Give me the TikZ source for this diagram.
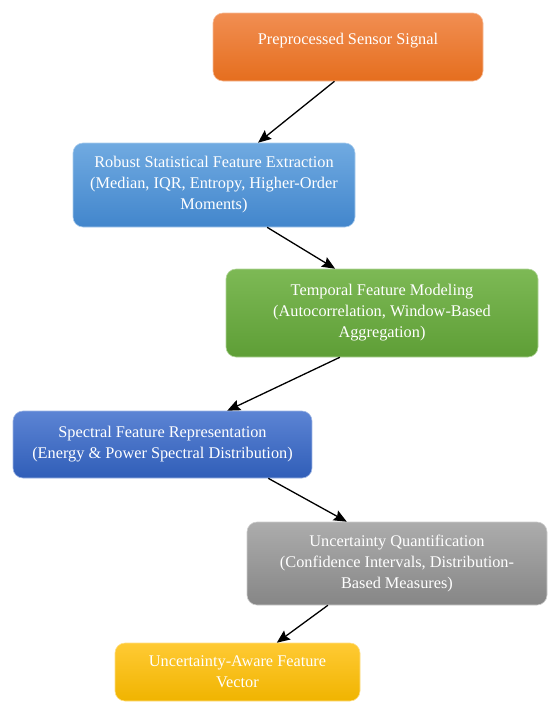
\documentclass[tikz,border=0pt]{standalone}
\usepackage{fontspec}
\setmainfont{Liberation Serif}
\usetikzlibrary{arrows.meta,calc}
\definecolor{orT}{RGB}{241,142,82}
\definecolor{orB}{RGB}{229,110,30}
\definecolor{b1T}{RGB}{112,170,225}
\definecolor{b1B}{RGB}{66,134,204}
\definecolor{b2T}{RGB}{92,132,212}
\definecolor{b2B}{RGB}{48,94,184}
\definecolor{grT}{RGB}{125,185,85}
\definecolor{grB}{RGB}{94,158,54}
\definecolor{gyT}{RGB}{172,172,172}
\definecolor{gyB}{RGB}{134,134,134}
\definecolor{ylT}{RGB}{255,202,52}
\definecolor{ylB}{RGB}{240,180,0}
\begin{document}
\begin{tikzpicture}[x=1pt,y=-1pt,
  box/.style={rectangle, rounded corners=10pt, align=center, text=white,
    font=\fontsize{16.3}{21}\selectfont, inner sep=0pt},
  conn/.style={draw=black, line width=1.3pt, -{Stealth[length=13pt,width=11pt,inset=2pt]}}]
\useasboundingbox[fill=white] (0,0) rectangle (548,702);
\node[box, minimum width=270pt, minimum height=68pt, top color=orT, bottom color=orB, draw=orT!60!white, line width=0.6pt]
  (b1) at (348,47) {\raisebox{6pt}[\height][\depth]{Preprocessed Sensor Signal}};
\node[box, minimum width=282pt, minimum height=84pt, top color=b1T, bottom color=b1B, draw=b1T!60!white, line width=0.6pt]
  (b2) at (214,185) {Robust Statistical Feature Extraction\\(Median, IQR, Entropy, Higher-Order\\Moments)};
\node[box, minimum width=312pt, minimum height=88pt, top color=grT, bottom color=grB, draw=grT!60!white, line width=0.6pt]
  (b3) at (382,313) {Temporal Feature Modeling\\(Autocorrelation, Window-Based\\Aggregation)};
\node[box, minimum width=299pt, minimum height=67pt, top color=b2T, bottom color=b2B, draw=b2T!60!white, line width=0.6pt]
  (b4) at (162.5,444.5) {Spectral Feature Representation\\(Energy \& Power Spectral Distribution)};
\node[box, minimum width=300pt, minimum height=83pt, top color=gyT, bottom color=gyB, draw=gyT!60!white, line width=0.6pt]
  (b5) at (397,563.5) {Uncertainty Quantification\\(Confidence Intervals, Distribution-\\Based Measures)};
\node[box, minimum width=245pt, minimum height=58pt, top color=ylT, bottom color=ylB, draw=ylT!60!white, line width=0.6pt]
  (b6) at (237.5,672) {Uncertainty-Aware Feature\\Vector};
\draw[conn] ($(b1.south west)!0.45!(b1.south east)$) -- ($(b2.north west)!0.656!(b2.north east)$);
\draw[conn] ($(b2.south west)!0.688!(b2.south east)$) -- ($(b3.north west)!0.35!(b3.north east)$);
\draw[conn] ($(b3.south west)!0.365!(b3.south east)$) -- ($(b4.north west)!0.716!(b4.north east)$);
\draw[conn] ($(b4.south west)!0.853!(b4.south east)$) -- ($(b5.north west)!0.333!(b5.north east)$);
\draw[conn] ($(b5.south west)!0.27!(b5.south east)$) -- ($(b6.north west)!0.66!(b6.north east)$);
\end{tikzpicture}
\end{document}
